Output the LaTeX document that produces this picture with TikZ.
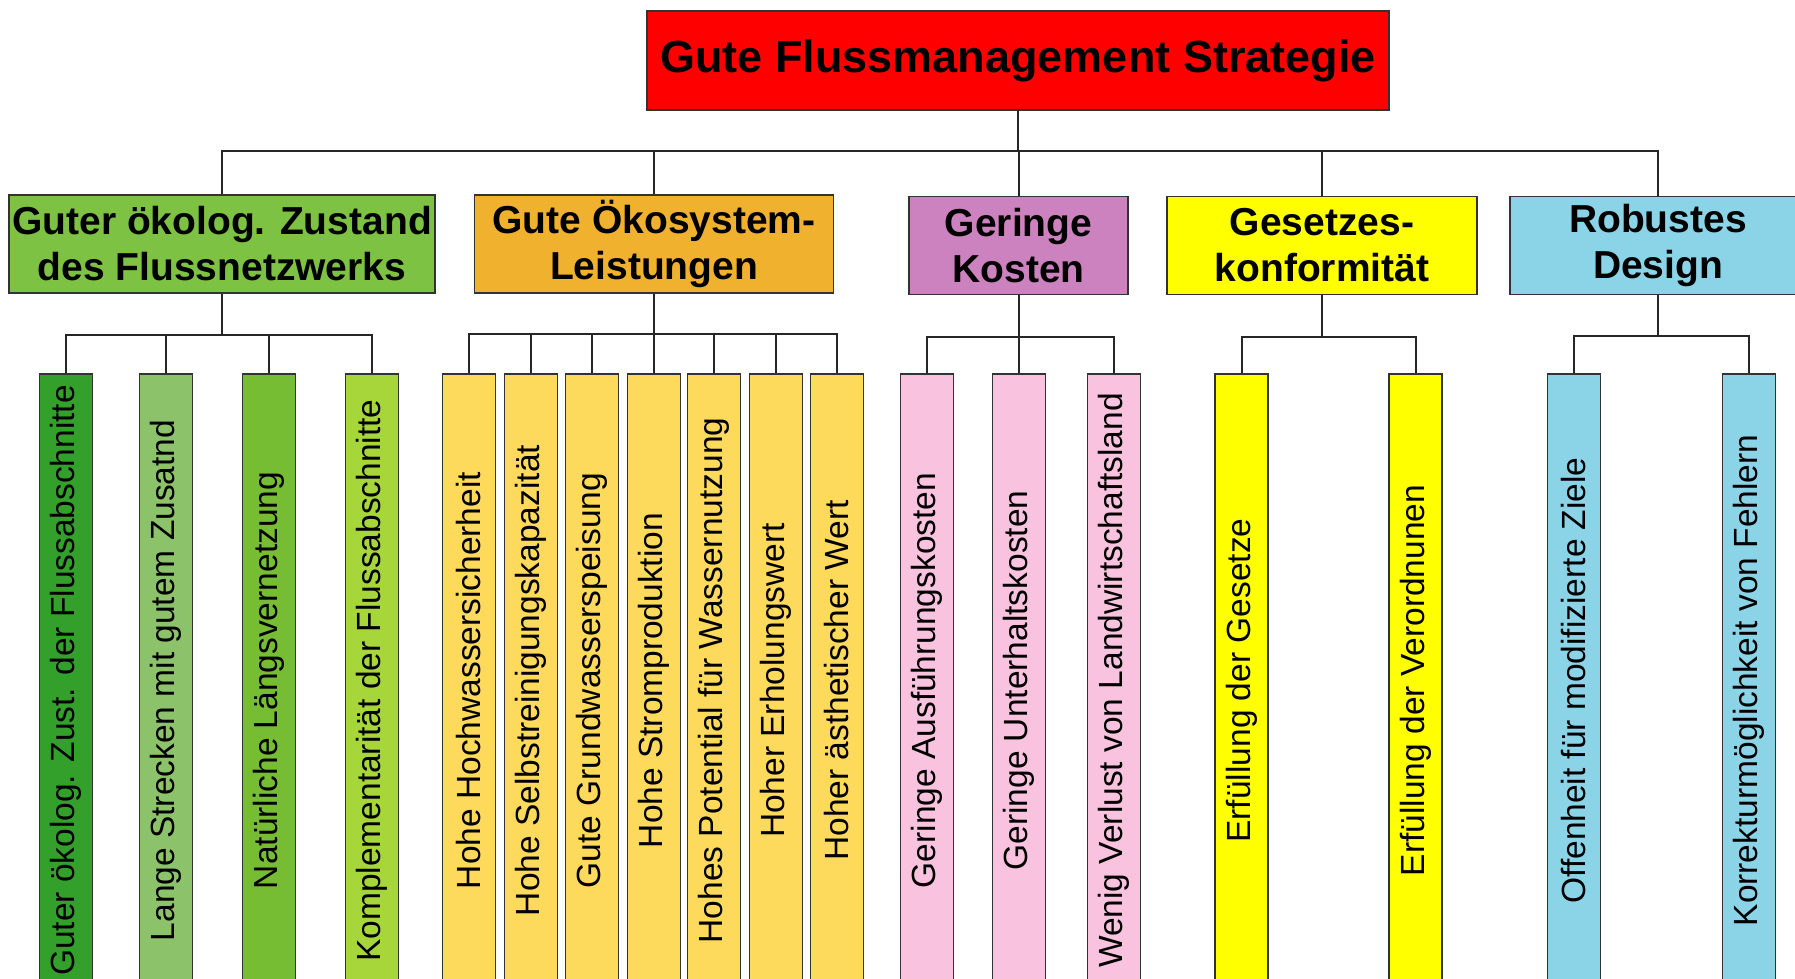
\documentclass[tikz,border=0pt]{standalone}
\usepackage{fontspec}
\setmainfont{Liberation Sans}
\usepackage{graphicx}

\definecolor{rootred}{HTML}{FF0000}
\definecolor{ecogreen}{HTML}{7DC242}
\definecolor{serviceorange}{HTML}{F0B22E}
\definecolor{costpurple}{HTML}{CC82BE}
\definecolor{lawyellow}{HTML}{FFFF00}
\definecolor{designblue}{HTML}{8BD3E6}
\definecolor{leafgreenA}{HTML}{34A02C}
\definecolor{leafgreenB}{HTML}{8CC36A}
\definecolor{leafgreenC}{HTML}{77BD34}
\definecolor{leafgreenD}{HTML}{A7D63B}
\definecolor{leaforange}{HTML}{FDD95C}
\definecolor{leafpink}{HTML}{F9C3E0}

\begin{document}
\begin{tikzpicture}[
        x=1pt, y=-1pt,
        box/.style={draw=black!80, line width=1.8pt, inner sep=0pt, align=center},
        top/.style={box, fill=rootred, minimum width=742, minimum height=99, font=\fontsize{45}{54}\selectfont\bfseries},
        goal/.style={box, minimum height=98, font=\fontsize{39}{46}\selectfont\bfseries},
        leaf/.style={box, minimum width=53, minimum height=613, font=\fontsize{33.5}{40}\selectfont},
        link/.style={line width=2pt, black!85}
    ]
        \useasboundingbox (0,0) rectangle (1795,979);
        \clip (0,0) rectangle (1795,979);

        % Wurzel
        \node[top] (root) at (1018, 60.5) {Gute Flussmanagement Strategie};

        % Ziele (Ebene 1)
        \node[goal, fill=ecogreen, minimum width=426] (eco) at (222, 244) {Guter ökolog. Zustand\\des Flussnetzwerks};
        \node[goal, fill=serviceorange, minimum width=359] (service) at (654, 244) {Gute Ökosystem-\\Leistungen};
        \node[goal, fill=costpurple, minimum width=219] (cost) at (1018.5, 245.5) {Geringe\\Kosten};
        \node[goal, fill=lawyellow, minimum width=310] (law) at (1322, 245.5) {Gesetzes-\\konformität};
        \node[goal, fill=designblue, minimum width=296] (design) at (1658, 245.5) {Robustes\\Design};

        % Kriterien (Ebene 2)
        \node[leaf, fill=leafgreenA] (eco1) at (66, 680.5) {\rotatebox{90}{Guter ökolog. Zust. der Flussabschnitte}};
        \node[leaf, fill=leafgreenB] (eco2) at (166, 680.5) {\rotatebox{90}{Lange Strecken mit gutem Zusatnd}};
        \node[leaf, fill=leafgreenC] (eco3) at (269, 680.5) {\rotatebox{90}{Natürliche Längsvernetzung}};
        \node[leaf, fill=leafgreenD] (eco4) at (372, 680.5) {\rotatebox{90}{Komplementarität der Flussabschnitte}};

        \node[leaf, fill=leaforange] (service1) at (469, 680.5) {\rotatebox{90}{Hohe Hochwassersicherheit}};
        \node[leaf, fill=leaforange] (service2) at (531, 680.5) {\rotatebox{90}{Hohe Selbstreinigungskapazität}};
        \node[leaf, fill=leaforange] (service3) at (592, 680.5) {\rotatebox{90}{Gute Grundwasserspeisung}};
        \node[leaf, fill=leaforange] (service4) at (654, 680.5) {\rotatebox{90}{Hohe Stromproduktion}};
        \node[leaf, fill=leaforange] (service5) at (714, 680.5) {\rotatebox{90}{Hohes Potential für Wassernutzung}};
        \node[leaf, fill=leaforange] (service6) at (776, 680.5) {\rotatebox{90}{Hoher Erholungswert}};
        \node[leaf, fill=leaforange] (service7) at (837, 680.5) {\rotatebox{90}{Hoher ästhetischer Wert}};

        \node[leaf, fill=leafpink] (cost1) at (927, 680.5) {\rotatebox{90}{Geringe Ausführungskosten}};
        \node[leaf, fill=leafpink] (cost2) at (1019, 680.5) {\rotatebox{90}{Geringe Unterhaltskosten}};
        \node[leaf, fill=leafpink] (cost3) at (1114, 680.5) {\rotatebox{90}{Wenig Verlust von Landwirtschaftsland}};

        \node[leaf, fill=lawyellow] (law1) at (1241.5, 680.5) {\rotatebox{90}{Erfüllung der Gesetze}};
        \node[leaf, fill=lawyellow] (law2) at (1415.5, 680.5) {\rotatebox{90}{Erfüllung der Verordnunen}};

        \node[leaf, fill=designblue] (design1) at (1574, 680.5) {\rotatebox{90}{Offenheit für modifizierte Ziele}};
        \node[leaf, fill=designblue] (design2) at (1749, 680.5) {\rotatebox{90}{Korrekturmöglichkeit von Fehlern}};

        % Verbindungen
        \foreach \g in {eco, service, cost, law, design}
            \draw[link] (root.south) -- ++(0,40) -| (\g.north);
        \foreach \i in {1,...,4}
            \draw[link] (eco.south) -- ++(0,41) -| (eco\i.north);
        \foreach \i in {1,...,7}
            \draw[link] (service.south) -- ++(0,40) -| (service\i.north);
        \foreach \i in {1,...,3}
            \draw[link] (cost.south) -- ++(0,42) -| (cost\i.north);
        \foreach \i in {1,2}
            \draw[link] (law.south) -- ++(0,42) -| (law\i.north);
        \foreach \i in {1,2}
            \draw[link] (design.south) -- ++(0,41) -| (design\i.north);

    \end{tikzpicture}
\end{document}
